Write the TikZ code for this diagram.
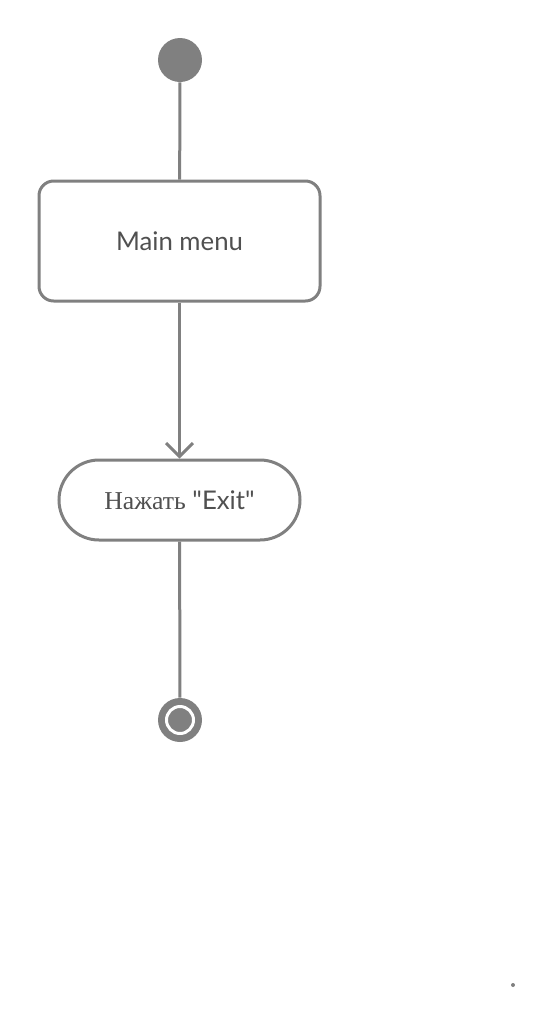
\documentclass[tikz,border=0pt]{standalone}
\usepackage{fontspec}
\newfontfamily\latofont{Lato}
\newfontfamily\cyrserif{Liberation Serif}
\usetikzlibrary{arrows.meta}
\definecolor{umlgray}{HTML}{808080}
\definecolor{umltext}{HTML}{505050}

\begin{document}
\begin{tikzpicture}[x=0.75pt,y=-0.75pt,
  line/.style = {draw=umlgray, line width=2.25pt},
  startnode/.style = {circle, fill=umlgray, minimum size=33pt, inner sep=0pt},
  statebox/.style = {line, rounded corners=11pt, minimum width=210.75pt,
    minimum height=90pt, text=umltext, font=\latofont\fontsize{19.3}{22}\selectfont},
  actionbox/.style = {line, rounded corners=30pt, minimum width=180.75pt,
    minimum height=60pt, text=umltext, font=\latofont\fontsize{19.3}{22}\selectfont},
  endnode/.style = {circle, fill=umlgray, minimum size=33pt, inner sep=0pt}]
  \useasboundingbox (0,0) rectangle (554,1026);
  \node[startnode] (start) at (180,60) {};
  \node[statebox] (menu) at (179.5,241) {Main menu};
  \node[actionbox] (exit) at (179.5,500) {{\cyrserif Нажать} "Exit"};
  \node[endnode] (end) at (180,720) {};
  \node[circle, draw=white, line width=2.25pt, minimum size=20.25pt,
    inner sep=0pt] (endring) at (end.center) {};
  \node[circle, fill=umlgray, minimum size=3pt, inner sep=0pt] (dot) at (513,985) {};
  \draw[line] (start) -- (menu);
  \draw[line, -{Straight Barb[length=10pt,width=20pt]}] (menu) -- (exit);
  \draw[line] (exit) -- (end);
\end{tikzpicture}
\end{document}
